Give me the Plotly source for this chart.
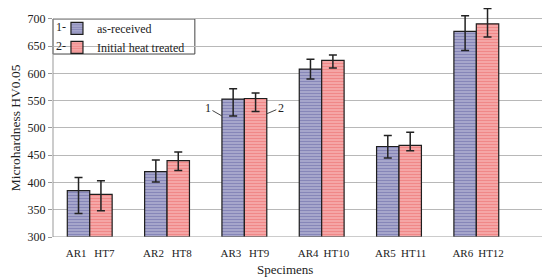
import plotly.graph_objects as go

groups = [0, 1, 2, 3, 4, 5]
ar_labels = ["AR1", "AR2", "AR3", "AR4", "AR5", "AR6"]
ht_labels = ["HT7", "HT8", "HT9", "HT10", "HT11", "HT12"]
ar_values = [385, 420, 553, 608, 466, 677]
ht_values = [378, 440, 554, 624, 468, 691]
ar_err_plus = [24, 21, 19, 18, 20, 29]
ar_err_minus = [42, 19, 31, 18, 21, 35]
ht_err_plus = [25, 16, 10, 10, 24, 28]
ht_err_minus = [30, 18, 24, 14, 10, 24]
y_ticks = [300, 350, 400, 450, 500, 550, 600, 650, 700]

off = 0.145
ar_x = [g - off for g in groups]
ht_x = [g + off for g in groups]

serif = "Liberation Serif, Times New Roman, serif"
blue = "#20207a"
red = "#e42626"
ink = "#222222"

fig = go.Figure()
fig.add_trace(go.Bar(
    x=ar_x, y=[v - 300 for v in ar_values], base=300, width=0.29,
    name="as-received", cliponaxis=False,
    marker=dict(color="white", line=dict(color="#1e1e1e", width=1.2),
                pattern=dict(shape="-", fgcolor=blue, bgcolor="#ececf6", size=3, solidity=0.8)),
    error_y=dict(type="data", symmetric=False, array=ar_err_plus, arrayminus=ar_err_minus,
                 color=ink, thickness=1.5, width=4),
))
fig.add_trace(go.Bar(
    x=ht_x, y=[v - 300 for v in ht_values], base=300, width=0.29,
    name="Initial heat treated", cliponaxis=False,
    marker=dict(color="white", line=dict(color="#1e1e1e", width=1.2),
                pattern=dict(shape="-", fgcolor=red, bgcolor="#fdeaea", size=3, solidity=0.8)),
    error_y=dict(type="data", symmetric=False, array=ht_err_plus, arrayminus=ht_err_minus,
                 color=ink, thickness=1.5, width=4),
))

# y axis line only from 300 to 700, plus baseline
fig.add_shape(type="line", xref="paper", yref="y", x0=0, x1=0, y0=300, y1=700,
              line=dict(color="#999999", width=1))
fig.add_shape(type="line", xref="paper", yref="y", x0=0, x1=1, y0=300, y1=300,
              line=dict(color="#999999", width=1))

# legend box with "1-" / "2-" prefixes
fig.add_shape(type="rect", xref="paper", yref="paper", x0=0, x1=0.286, y0=0.799, y1=0.952,
              line=dict(color="#444444", width=1), fillcolor="white", layer="below")
fig.add_annotation(text="1-", xref="paper", yref="paper", x=0.002, y=0.917, showarrow=False,
                   xanchor="left", yanchor="middle", font=dict(family=serif, size=12, color=ink))
fig.add_annotation(text="2-", xref="paper", yref="paper", x=0.002, y=0.836, showarrow=False,
                   xanchor="left", yanchor="middle", font=dict(family=serif, size=12, color=ink))

# series markers on AR3 / HT9
fig.add_annotation(x=2 - 2 * off, y=522, text="1", showarrow=True, arrowhead=0, arrowwidth=1,
                   arrowcolor="#444444", ax=-14, ay=-8, font=dict(family=serif, size=12, color=ink))
fig.add_annotation(x=2 + 2 * off, y=526, text="2", showarrow=True, arrowhead=0, arrowwidth=1,
                   arrowcolor="#444444", ax=14, ay=-6, font=dict(family=serif, size=12, color=ink))

# axis titles
fig.add_annotation(text="Specimens", xref="paper", yref="paper", x=0.468, y=-0.14,
                   xanchor="center", yanchor="middle", showarrow=False,
                   font=dict(family=serif, size=13, color=ink))
fig.add_annotation(text="Microhardness HV0.05", xref="paper", yref="paper", x=-0.074, y=0.476,
                   xanchor="center", yanchor="middle", textangle=-90, showarrow=False,
                   font=dict(family=serif, size=13.5, color=ink))

fig.update_layout(
    width=542, height=272,
    margin=dict(l=45, r=1, t=0, b=43, autoexpand=False),
    paper_bgcolor="white", plot_bgcolor="white",
    font=dict(family=serif, size=12, color=ink),
    barmode="overlay",
    showlegend=True,
    legend=dict(x=0.008, y=0.974, xanchor="left", yanchor="top", bgcolor="rgba(0,0,0,0)",
                font=dict(family=serif, size=12), tracegroupgap=0, itemwidth=30),
    xaxis=dict(range=[-0.475, 5.94], tickmode="array",
               tickvals=[g - 0.175 for g in groups] + [g + 0.19 for g in groups],
               ticktext=ar_labels + ht_labels, showgrid=False, zeroline=False,
               showline=False, ticks="outside", ticklen=6, tickcolor="rgba(0,0,0,0)",
               tickfont=dict(size=11)),
    yaxis=dict(range=[300, 720], tickmode="array", tickvals=y_ticks, showgrid=True,
               gridcolor="#b8b8b8", gridwidth=1, showline=False, ticks="outside", ticklen=4,
               tickcolor="#999999", zeroline=False, tickfont=dict(size=12)),
)

fig.write_html("out.html")
